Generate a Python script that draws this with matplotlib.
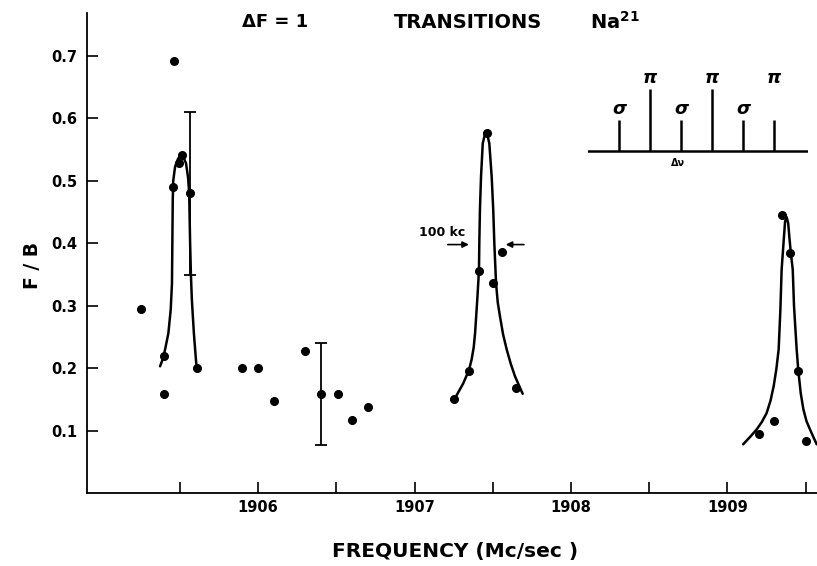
import numpy as np
import matplotlib.pyplot as plt

# measured points (frequency in Mc/sec, F/B)
freq = [1905.25, 1905.40, 1905.40, 1905.455, 1905.46, 1905.495, 1905.515, 1905.565,
        1905.61, 1905.90, 1906.00, 1906.10, 1906.30, 1906.40, 1906.51, 1906.60, 1906.70,
        1907.25, 1907.35, 1907.41, 1907.46, 1907.50, 1907.56, 1907.65,
        1909.20, 1909.30, 1909.35, 1909.40, 1909.45, 1909.50]
ratio = [0.295, 0.219, 0.159, 0.49, 0.692, 0.528, 0.542, 0.48,
         0.20, 0.20, 0.20, 0.148, 0.228, 0.159, 0.159, 0.117, 0.137,
         0.150, 0.196, 0.356, 0.576, 0.336, 0.386, 0.168,
         0.095, 0.116, 0.446, 0.384, 0.195, 0.083]

# error bars
err_x = [1905.565, 1906.40]
err_y = [0.48, 0.159]
err_lo = [0.13, 0.082]
err_hi = [0.13, 0.081]

# hand drawn resonance curves
curve1_x = [1905.374, 1905.392, 1905.406, 1905.427, 1905.442, 1905.450, 1905.453, 1905.455,
            1905.458, 1905.470, 1905.490, 1905.516, 1905.540, 1905.553, 1905.560, 1905.563,
            1905.566, 1905.571, 1905.577, 1905.590, 1905.603, 1905.608]
curve1_y = [0.203, 0.215, 0.230, 0.256, 0.294, 0.336, 0.416, 0.470,
            0.500, 0.523, 0.536, 0.542, 0.528, 0.505, 0.480, 0.440,
            0.400, 0.350, 0.310, 0.256, 0.214, 0.200]

curve2_x = [1907.259, 1907.290, 1907.312, 1907.348, 1907.365, 1907.378, 1907.387, 1907.401,
            1907.412, 1907.414, 1907.418, 1907.425, 1907.436, 1907.447, 1907.457, 1907.467,
            1907.478, 1907.493, 1907.503, 1907.510, 1907.521, 1907.532, 1907.546, 1907.566,
            1907.589, 1907.615, 1907.642, 1907.668, 1907.691]
curve2_y = [0.152, 0.166, 0.176, 0.197, 0.214, 0.233, 0.256, 0.310,
            0.357, 0.400, 0.454, 0.507, 0.560, 0.572, 0.576, 0.572,
            0.560, 0.507, 0.454, 0.400, 0.336, 0.305, 0.283, 0.254,
            0.230, 0.207, 0.187, 0.172, 0.159]

curve3_x = [1909.100, 1909.145, 1909.187, 1909.220, 1909.250, 1909.275, 1909.295, 1909.312,
            1909.327, 1909.338, 1909.346, 1909.361, 1909.368, 1909.378, 1909.388, 1909.395,
            1909.405, 1909.417, 1909.425, 1909.442, 1909.453, 1909.468, 1909.485, 1909.505,
            1909.527, 1909.550, 1909.570]
curve3_y = [0.078, 0.090, 0.102, 0.114, 0.128, 0.148, 0.171, 0.198,
            0.230, 0.294, 0.358, 0.411, 0.435, 0.442, 0.432, 0.411,
            0.384, 0.358, 0.300, 0.230, 0.195, 0.160, 0.134, 0.115,
            0.102, 0.089, 0.078]

# axis ticks
xtick_pos = [1905.5, 1906, 1906.5, 1907, 1907.5, 1908, 1908.5, 1909, 1909.5]
xtick_lab = ['', '1906', '', '1907', '', '1908', '', '1909', '']
ytick_pos = [0.1, 0.2, 0.3, 0.4, 0.5, 0.6, 0.7]

# 100 kc width marker
kc_left = [1907.195, 1907.365]
kc_right = [1907.717, 1907.565]
kc_y = 0.398

# inset level diagram
stick_pos = [1, 2, 3, 4, 5, 6]
stick_h = [1, 2, 1, 2, 1, 1]
stick_lab = ['σ', 'π', 'σ', 'π', 'σ', 'π']
stick_lab_y = [1.35, 2.37, 1.35, 2.37, 1.35, 2.37]

plt.rcParams['font.family'] = ['DejaVu Sans']
plt.rcParams['font.weight'] = 'bold'

fig = plt.figure(figsize=(8.17, 5.66), dpi=100)
W, H = 817, 566
ax = fig.add_axes([87 / W, 73 / H, (W - 87) / W, 480 / H])

ax.plot(curve1_x, curve1_y, color='black', lw=1.8, solid_capstyle='round')
ax.plot(curve2_x, curve2_y, color='black', lw=1.8, solid_capstyle='round')
ax.plot(curve3_x, curve3_y, color='black', lw=1.8, solid_capstyle='round')
ax.plot(freq, ratio, 'o', color='black', ms=5.5)
ax.errorbar(err_x, err_y, yerr=[err_lo, err_hi], fmt='none', ecolor='black',
            elinewidth=1.3, capsize=4.3, capthick=1.3)

ax.annotate('', xy=(kc_left[1], kc_y), xytext=(kc_left[0], kc_y),
            arrowprops=dict(arrowstyle='-|>', color='black', lw=1.2, mutation_scale=9))
ax.annotate('', xy=(kc_right[1], kc_y), xytext=(kc_right[0], kc_y),
            arrowprops=dict(arrowstyle='-|>', color='black', lw=1.2, mutation_scale=9))
ax.text(1907.03, 0.418, '100 kc', fontsize=9, va='center', ha='left')

ax.set_xlim(1904.907, 1909.572)
ax.set_ylim(0, 0.769)
ax.set_xticks(xtick_pos)
ax.set_xticklabels(xtick_lab)
ax.set_yticks(ytick_pos)
ax.tick_params(direction='in', length=8, width=1.2, labelsize=10.5, pad=5)
ax.tick_params(axis='y', pad=7)
ax.spines['top'].set_visible(False)
ax.spines['right'].set_visible(False)
ax.spines['left'].set_linewidth(1.3)
ax.spines['bottom'].set_linewidth(1.3)

fig.text(33 / W, 1 - 265 / H, 'F / B', rotation=90, fontsize=13.5,
         ha='center', va='center')
fig.text(455 / W, 1 - 551 / H, 'FREQUENCY (Mc/sec )', fontsize=14.5,
         ha='center', va='center')

# heading
fig.text(275 / W, 1 - 22 / H, 'ΔF = 1', fontsize=13, ha='center', va='center')
fig.text(468 / W, 1 - 22 / H, 'TRANSITIONS', fontsize=14, ha='center', va='center')
fig.text(590 / W, 1 - 22 / H, 'Na$^{\\mathbf{21}}$', fontsize=14, ha='left', va='center')

# inset
ins = fig.add_axes([588 / W, 1 - 172 / H, 220 / W, 105 / H])
ins.plot([0, 7.1], [0, 0], color='black', lw=1.8)
ins.vlines(stick_pos, 0, stick_h, color='black', lw=1.8)
for xp, lab, ly in zip(stick_pos, stick_lab, stick_lab_y):
    ins.text(xp, ly, lab, fontsize=13, fontstyle='italic',
             ha='center', va='center')
ins.text(2.9, -0.42, 'Δν', fontsize=7, ha='center', va='center')
ins.set_xlim(0, 7.1)
ins.set_ylim(-0.7, 2.72)
ins.axis('off')

fig.savefig('out.png', dpi=100)
